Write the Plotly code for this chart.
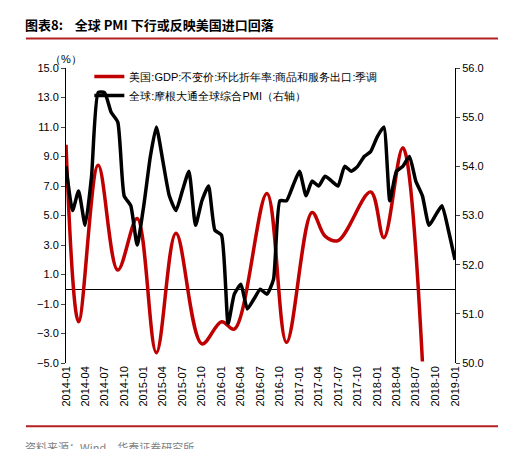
import plotly.graph_objects as go
import pandas as pd

us_dates = ["2014-01", "2014-03", "2014-06", "2014-09", "2014-12", "2015-03", "2015-06",
            "2015-10", "2016-01", "2016-03", "2016-08", "2016-11", "2017-03", "2017-05",
            "2017-07", "2017-12", "2018-02", "2018-05", "2018-08"]
us_exports = [9.8, -2.2, 8.4, 1.3, 4.8, -4.3, 3.8, -3.7, -2.2, -2.7, 6.5, -3.6, 5.2, 3.6,
              3.3, 6.6, 3.5, 9.6, -4.9]

# JPMorgan global composite PMI (right axis), monthly from 2014-01
pmi_dates = pd.date_range("2014-01-01", periods=61, freq="MS")
pmi = [54.0, 53.1, 53.5, 52.8, 53.8, 55.5, 55.5, 55.1, 54.9, 53.4, 53.2, 52.4, 53.2, 54.2,
       54.8, 54.1, 53.4, 53.1, 53.5, 53.9, 52.8, 53.3, 53.6, 52.7, 52.6, 50.8, 51.4, 51.6,
       51.1, 51.3, 51.5, 51.4, 51.7, 53.3, 53.3, 53.6, 53.9, 53.4, 53.7, 53.6, 53.8, 53.7,
       53.6, 54.0, 53.9, 54.0, 54.2, 54.3, 54.6, 54.8, 53.3, 53.9, 54.0, 54.2, 53.7, 53.4,
       52.8, 53.0, 53.2, 52.7, 52.1]

tick_vals = pd.date_range("2014-01-01", "2019-01-01", freq="3MS")

font = "Liberation Sans, Arial, sans-serif"

fig = go.Figure()
fig.add_trace(go.Scatter(x=pd.to_datetime(us_dates), y=us_exports, mode="lines",
                         name="美国:GDP:不变价:环比折年率:商品和服务出口:季调",
                         line=dict(color="#c00000", width=3.5, shape="spline", smoothing=1.0)))
fig.add_trace(go.Scatter(x=pmi_dates, y=pmi, mode="lines", yaxis="y2",
                         name="全球:摩根大通全球综合PMI（右轴）",
                         line=dict(color="black", width=3.5, shape="spline", smoothing=0.5)))

fig.update_layout(
    width=506, height=449, paper_bgcolor="white", plot_bgcolor="white",
    margin=dict(l=58, r=59, t=60, b=94),
    font=dict(family=font, size=11, color="black"),
    showlegend=True,
    legend=dict(x=0.06, y=1.02, xanchor="left", yanchor="top", bgcolor="rgba(0,0,0,0)",
                font=dict(size=11), tracegroupgap=12),
    xaxis=dict(range=["2014-01-01", "2019-01-01"], tickvals=tick_vals, tickformat="%Y-%m",
               tickangle=-90, showgrid=False, showline=False, ticks="", zeroline=False,
               tickfont=dict(size=11)),
    yaxis=dict(range=[-5, 15], tick0=-5, dtick=2, tickformat=".1f", showgrid=False,
               showline=True, linecolor="black", ticks="outside", ticklen=4, zeroline=True,
               zerolinecolor="black", zerolinewidth=1),
    yaxis2=dict(range=[50, 56], dtick=1, tickformat=".1f", overlaying="y", side="right",
                showgrid=False, showline=True, linecolor="black", ticks="outside",
                ticklen=4, zeroline=False),
    annotations=[
        dict(text="<b>图表8:    全球 PMI 下行或反映美国进口回落</b>", x=-0.11, y=1.146,
             xref="paper", yref="paper", showarrow=False,
             font=dict(size=13, family="Noto Sans CJK SC"), xanchor="left", yanchor="middle"),
        dict(text="（%）", x=0.0, y=1.005, xref="paper", yref="paper", showarrow=False,
             font=dict(size=11), xanchor="center", yanchor="bottom"),
        dict(text="资料来源：Wind，华泰证券研究所", x=-0.11, y=-0.25, xref="paper", yref="paper",
             showarrow=False, font=dict(size=11, color="#7f7f7f", family="Noto Sans CJK SC"),
             xanchor="left", yanchor="top"),
    ],
    shapes=[
        dict(type="line", xref="paper", yref="paper", x0=-0.103, x1=1.138, y0=1.10, y1=1.10,
             line=dict(color="#b22222", width=2)),
        dict(type="line", xref="paper", yref="paper", x0=-0.103, x1=1.138, y0=-0.214, y1=-0.214,
             line=dict(color="#b22222", width=2)),
    ],
)

fig.write_html("out.html")
